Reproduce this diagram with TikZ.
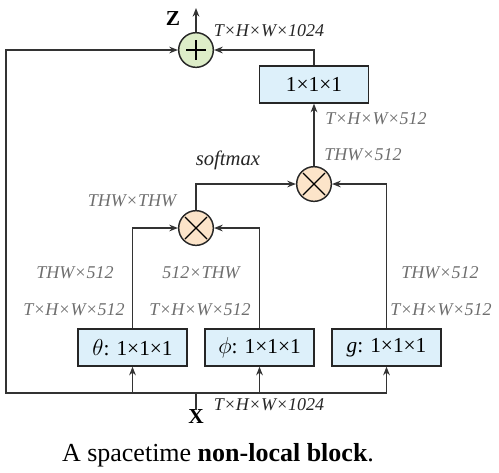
\documentclass[tikz,border=0pt]{standalone}
\usepackage{fontspec}
\setmainfont{Liberation Serif}
\usetikzlibrary{arrows.meta,calc}
\definecolor{boxblue}{HTML}{DDF0FA}
\definecolor{plusgreen}{HTML}{DDEDC8}
\definecolor{mulpeach}{HTML}{FCE4C9}
\definecolor{lblgray}{HTML}{6E6E6E}
\begin{document}
\begin{tikzpicture}[x=0.75pt,y=-0.75pt,
  conv/.style={draw=black!85,line width=1.2pt,fill=boxblue,minimum width=81.5pt,minimum height=27.5pt,inner sep=0pt,font=\fontsize{16}{18}\selectfont},
  op/.style={circle,draw=black!85,line width=1.1pt,minimum size=26pt,inner sep=0pt},
  arr/.style={draw=black!80,line width=1pt,-{Stealth[length=6.5pt,width=5pt]}},
  ln/.style={draw=black!80,line width=1pt},
  lbl/.style={text=lblgray,font=\fontsize{13.5}{15}\selectfont\itshape,inner sep=0pt},
  dlbl/.style={text=black!85,font=\fontsize{13.5}{15}\selectfont\itshape,inner sep=0pt},
  var/.style={font=\fontsize{16}{18}\selectfont\bfseries,inner sep=0pt}]
\useasboundingbox (0,0) rectangle (499,472);
% operators
\node[op,fill=plusgreen] (plus) at (196,50) {};
\node[op,fill=mulpeach] (mulL) at (196,228) {};
\node[op,fill=mulpeach] (mulR) at (314,184) {};
\draw[line width=1pt] ($(plus.center)+(-10,0)$) -- ($(plus.center)+(10,0)$);
\draw[line width=1pt] ($(plus.center)+(0,-10)$) -- ($(plus.center)+(0,10)$);
\foreach \m in {mulL,mulR}{
  \draw[line width=1pt] ($(\m.center)+(-11,-11)$) -- ($(\m.center)+(11,11)$);
  \draw[line width=1pt] ($(\m.center)+(-11,11)$) -- ($(\m.center)+(11,-11)$);
}
% boxes
\node[conv] (out) at (314,84.5) {1×1×1};
\node[conv] (theta) at (132.5,347.5) {$\theta$: 1×1×1};
\node[conv] (phi) at (259.5,347.5) {$\phi$: 1×1×1};
\node[conv] (g) at (386.5,347.5) {\textit{g}: 1×1×1};
% input / output
\node[var] (X) at (196,417) {X};
\node[var] (Z) at (173,19) {Z};
\coordinate (xs) at (196,393);
\coordinate (tl) at (6,50);
\coordinate (ztop) at (196,8);
\draw[ln] (X.north) -- (xs);
\draw[arr] (xs) -| (tl) -- (plus.west);
\draw[arr] (xs) -| (g.south);
\draw[arr] (theta.south |- xs) -- (theta.south);
\draw[arr] (phi.south |- xs) -- (phi.south);
\draw[arr] (theta.north) |- (mulL.west);
\draw[arr] (phi.north) |- (mulL.east);
\draw[arr] (mulL.north) |- (mulR.west);
\draw[arr] (g.north) |- (mulR.east);
\draw[arr] (mulR.north) -- (out.south);
\draw[arr] (out.north) |- (plus.east);
\draw[arr] (plus.north) -- (ztop);
% labels
\node[dlbl] (l1) at (269,31) {T×H×W×1024};
\node[dlbl] (l2) at (269,405) {T×H×W×1024};
\node[lbl] (l3) at (376,119) {T×H×W×512};
\node[lbl] (l4) at (363,155) {THW×512};
\node[dlbl,font=\fontsize{15.5}{17}\selectfont\itshape] (sm) at (228,160) {softmax};
\node[lbl] (l5) at (132,201) {THW×THW};
\node[lbl] (l6) at (75,273) {THW×512};
\node[lbl] (l7) at (74,310) {T×H×W×512};
\node[lbl] (l8) at (201,273) {512×THW};
\node[lbl] (l9) at (200,310) {T×H×W×512};
\node[lbl] (l10) at (440,273) {THW×512};
\node[lbl] (l11) at (441,310) {T×H×W×512};
\node[font=\fontsize{19.5}{21}\selectfont,inner sep=0pt] (cap) at (218,455) {A spacetime \textbf{non-local block}.};
\end{tikzpicture}
\end{document}
